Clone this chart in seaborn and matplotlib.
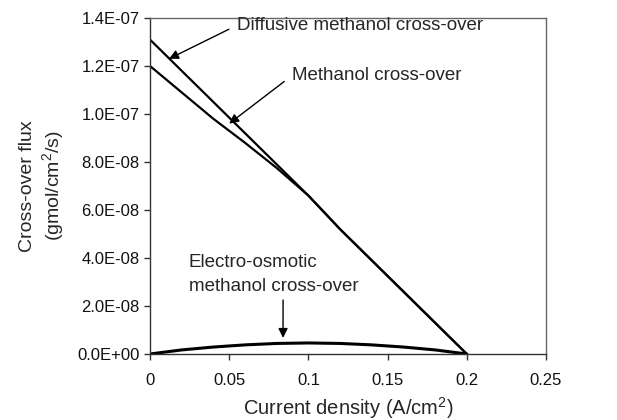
import matplotlib
matplotlib.use("Agg")
import matplotlib.pyplot as plt
from matplotlib.ticker import FuncFormatter, FixedLocator
import seaborn as sns
import pandas as pd

# ---- data ----
current_density = [0.00, 0.02, 0.04, 0.06, 0.08, 0.10, 0.12, 0.14, 0.16, 0.18, 0.20]
diffusive_flux = [1.31e-7, 1.18e-7, 1.05e-7, 0.92e-7, 0.79e-7, 0.66e-7, 0.52e-7, 0.39e-7, 0.26e-7, 0.13e-7, 0.0]
methanol_flux = [1.20e-7, 1.09e-7, 0.98e-7, 0.88e-7, 0.775e-7, 0.66e-7, 0.52e-7, 0.39e-7, 0.26e-7, 0.13e-7, 0.0]
eo_flux = [0.0, 1.7e-9, 2.9e-9, 3.8e-9, 4.4e-9, 4.6e-9, 4.4e-9, 3.8e-9, 2.9e-9, 1.7e-9, 0.0]

x_ticks = [0, 0.05, 0.1, 0.15, 0.2, 0.25]
x_tick_labels = ["0", "0.05", "0.1", "0.15", "0.2", "0.25"]
y_ticks = [0.0, 2e-8, 4e-8, 6e-8, 8e-8, 1e-7, 1.2e-7, 1.4e-7]

label_diff = "Diffusive methanol cross-over"
label_meth = "Methanol cross-over"
label_eo = "Electro-osmotic\nmethanol cross-over"

sns.set_style("ticks")
plt.rcParams["font.family"] = ["Liberation Sans", "DejaVu Sans"]
plt.rcParams["mathtext.fontset"] = "custom"
plt.rcParams["mathtext.rm"] = "Liberation Sans"
plt.rcParams["mathtext.it"] = "Liberation Sans:italic"

df = pd.DataFrame({
    "x": current_density * 3,
    "y": diffusive_flux + methanol_flux + eo_flux,
    "series": ["diff"] * 11 + ["meth"] * 11 + ["eo"] * 11,
})

fig = plt.figure(figsize=(6.17, 4.20), dpi=100)
ax = fig.add_axes([150 / 617, 1 - 354 / 420, (546 - 150) / 617, (354 - 18) / 420])

for name, lw in [("diff", 1.6), ("meth", 1.6), ("eo", 2.2)]:
    sns.lineplot(data=df[df.series == name], x="x", y="y", ax=ax,
                 color="black", linewidth=lw, legend=False)

ax.set_xlim(0, 0.25)
ax.set_ylim(0, 1.4e-7)
ax.xaxis.set_major_locator(FixedLocator(x_ticks))
ax.set_xticklabels(x_tick_labels)
ax.yaxis.set_major_locator(FixedLocator(y_ticks))
ax.yaxis.set_major_formatter(FuncFormatter(lambda v, p: f"{v:.1E}"))

for s in ax.spines.values():
    s.set_visible(True)
    s.set_color("#666666")
    s.set_linewidth(1.0)
ax.spines["left"].set_color("#333333")
ax.spines["bottom"].set_color("#333333")

ax.tick_params(axis="both", direction="out", length=4, width=1,
               color="#333333", labelsize=12, labelcolor="#111111")
ax.tick_params(axis="x", pad=10)

ax.set_xlabel("Current density (A/cm$^2$)", fontsize=14.5, labelpad=5)
ax.set_ylabel("Cross-over flux\n(gmol/cm$^2$/s)", fontsize=14, labelpad=8)

arrow = dict(arrowstyle="-|>", color="black", lw=1.0, mutation_scale=14,
             shrinkA=4, shrinkB=0, relpos=(0.0, 0.5))
ax.annotate(label_diff, xy=(0.012, 1.23e-7), xytext=(0.055, 1.37e-7),
            fontsize=13.5, va="center", ha="left", arrowprops=arrow)
ax.annotate(label_meth, xy=(0.05, 0.96e-7), xytext=(0.0896, 1.16e-7),
            fontsize=13.5, va="center", ha="left", arrowprops=arrow)
ax.text(0.0246, 3.31e-8, label_eo, fontsize=13.5, va="center", ha="left",
        linespacing=1.5)
ax.annotate("", xy=(0.084, 6.7e-9), xytext=(0.084, 2.25e-8),
            arrowprops=dict(arrowstyle="-|>", color="black", lw=1.0,
                            mutation_scale=14, shrinkA=0, shrinkB=0))

fig.savefig("out.png", dpi=100)
